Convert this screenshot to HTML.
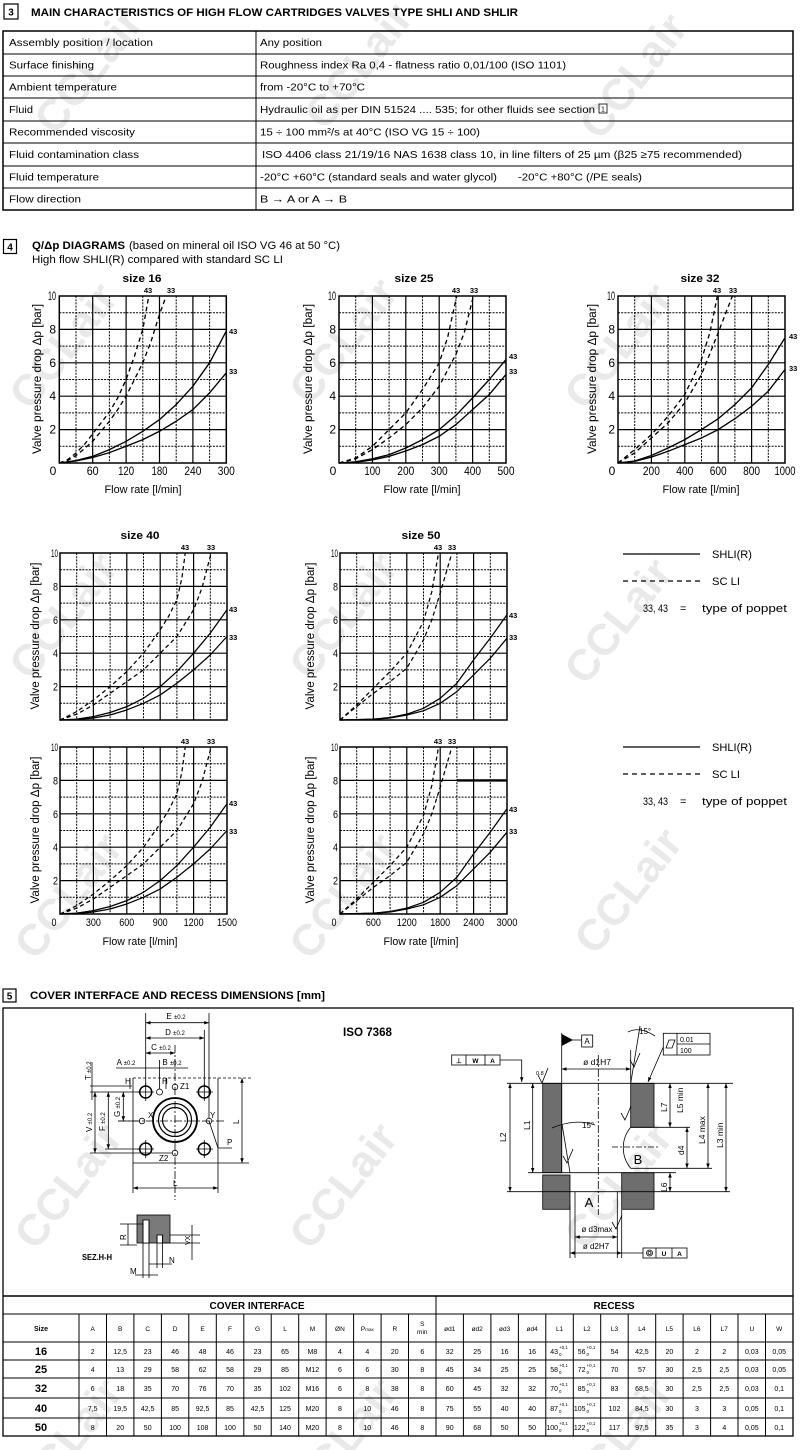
<!DOCTYPE html>
<html><head><meta charset="utf-8"><style>html,body{margin:0;padding:0;background:#fff}svg{display:block}</style></head>
<body>
<svg xmlns="http://www.w3.org/2000/svg" xmlns:xlink="http://www.w3.org/1999/xlink" width="800" height="1450" viewBox="0 0 800 1450" font-family="Liberation Sans, Arial, sans-serif">
<defs>
<marker id="ar" viewBox="0 0 6 6" refX="6" refY="3" markerWidth="6" markerHeight="6" orient="auto-start-reverse"><path d="M0,0.8L6,3L0,5.2z" fill="#000"/></marker>
<g id="grid" fill="none" stroke="#000">
<path d="M16.7 0V167M50.1 0V167M83.5 0V167M116.9 0V167M150.3 0V167M0 16.7H167M0 50.1H167M0 83.5H167M0 116.9H167M0 150.3H167" stroke-width="1" stroke-dasharray="2,1.2"/>
<path d="M33.4 0V167M66.8 0V167M100.2 0V167M133.6 0V167M0 33.4H167M0 66.8H167M0 100.2H167M0 133.6H167" stroke-width="1.2"/>
<rect x="0" y="0" width="167" height="167" stroke-width="1.5"/>
</g>
</defs>
<rect width="800" height="1450" fill="#fff"/>

<!-- watermarks -->
<g font-size="44" font-weight="bold" fill="#d2d2d2" opacity="0.5" text-anchor="middle">
<text transform="translate(100,80) rotate(-52)">CCLair</text>
<text transform="translate(370,75) rotate(-52)">CCLair</text>
<text transform="translate(645,85) rotate(-52)">CCLair</text>
<text transform="translate(75,355) rotate(-52)">CCLair</text>
<text transform="translate(355,350) rotate(-52)">CCLair</text>
<text transform="translate(630,355) rotate(-52)">CCLair</text>
<text transform="translate(75,625) rotate(-52)">CCLair</text>
<text transform="translate(355,625) rotate(-52)">CCLair</text>
<text transform="translate(630,630) rotate(-52)">CCLair</text>
<text transform="translate(80,905) rotate(-52)">CCLair</text>
<text transform="translate(355,905) rotate(-52)">CCLair</text>
<text transform="translate(640,900) rotate(-52)">CCLair</text>
<text transform="translate(80,1195) rotate(-52)">CCLair</text>
<text transform="translate(355,1195) rotate(-52)">CCLair</text>
<text transform="translate(630,1195) rotate(-52)">CCLair</text>
<text transform="translate(80,1450) rotate(-52)">CCLair</text>
<text transform="translate(355,1450) rotate(-52)">CCLair</text>
<text transform="translate(630,1450) rotate(-52)">CCLair</text>
</g>

<!-- SECTION 3 -->
<rect x="4" y="4" width="14" height="15" fill="none" stroke="#000" stroke-width="1.2"/>
<text x="11" y="15.5" font-size="10" font-weight="bold" text-anchor="middle">3</text>
<text x="31" y="16" font-size="11" font-weight="bold" textLength="487" lengthAdjust="spacingAndGlyphs">MAIN CHARACTERISTICS OF HIGH FLOW CARTRIDGES VALVES TYPE SHLI AND SHLIR</text>
<rect x="3" y="31" width="790" height="179" fill="none" stroke="#000" stroke-width="1.5"/>
<path d="M3 54H793M3 76H793M3 98H793M3 121H793M3 143H793M3 166H793M3 188H793M256 31V210" stroke="#000" stroke-width="1"/>
<g font-size="10.5">
<text x="9" y="46" textLength="144" lengthAdjust="spacingAndGlyphs">Assembly position / location</text>
<text x="9" y="68.5" textLength="85" lengthAdjust="spacingAndGlyphs">Surface finishing</text>
<text x="9" y="90.5" textLength="108" lengthAdjust="spacingAndGlyphs">Ambient temperature</text>
<text x="9" y="113" textLength="24" lengthAdjust="spacingAndGlyphs">Fluid</text>
<text x="9" y="135.5" textLength="126" lengthAdjust="spacingAndGlyphs">Recommended viscosity</text>
<text x="9" y="158" textLength="130" lengthAdjust="spacingAndGlyphs">Fluid contamination class</text>
<text x="9" y="180.5" textLength="90" lengthAdjust="spacingAndGlyphs">Fluid temperature</text>
<text x="9" y="202.5" textLength="72" lengthAdjust="spacingAndGlyphs">Flow direction</text>
<text x="260" y="46" textLength="62" lengthAdjust="spacingAndGlyphs">Any position</text>
<text x="260" y="68.5" textLength="306" lengthAdjust="spacingAndGlyphs">Roughness index Ra 0,4 - flatness ratio 0,01/100 (ISO 1101)</text>
<text x="260" y="90.5" textLength="105" lengthAdjust="spacingAndGlyphs">from -20°C to +70°C</text>
<text x="260" y="113" textLength="335" lengthAdjust="spacingAndGlyphs">Hydraulic oil as per DIN 51524 .... 535; for other fluids see section</text>
<text x="260" y="135.5" textLength="220" lengthAdjust="spacingAndGlyphs">15 ÷ 100 mm²/s at 40°C (ISO VG 15 ÷ 100)</text>
<text x="262" y="158" textLength="480" lengthAdjust="spacingAndGlyphs">ISO 4406  class 21/19/16  NAS 1638  class 10, in line filters of 25 µm (β25 ≥75 recommended)</text>
<text x="260" y="180.5" textLength="237" lengthAdjust="spacingAndGlyphs">-20°C +60°C (standard seals and water glycol)</text>
<text x="518" y="180.5" textLength="124" lengthAdjust="spacingAndGlyphs">-20°C +80°C (/PE seals)</text>
<text x="260" y="202.5" textLength="87" lengthAdjust="spacingAndGlyphs">B → A or A → B</text>
</g>
<rect x="599" y="104" width="8" height="9" fill="none" stroke="#000" stroke-width="0.8"/>
<text x="603" y="111.5" font-size="7" text-anchor="middle">1</text>

<!-- SECTION 4 -->
<rect x="3.5" y="239.5" width="13" height="14" fill="none" stroke="#000" stroke-width="1.2"/>
<text x="10" y="250.5" font-size="10" font-weight="bold" text-anchor="middle">4</text>
<text x="32" y="249" font-size="11" font-weight="bold" textLength="93" lengthAdjust="spacingAndGlyphs">Q/Δp DIAGRAMS</text>
<text x="129" y="249" font-size="11" textLength="211" lengthAdjust="spacingAndGlyphs">(based on mineral oil ISO VG 46 at 50 °C)</text>
<text x="32" y="263" font-size="11" textLength="251" lengthAdjust="spacingAndGlyphs">High flow SHLI(R) compared with standard SC LI</text>

<!-- grids -->
<use xlink:href="#grid" href="#grid" x="59.3" y="296"/>
<use xlink:href="#grid" href="#grid" x="339" y="296"/>
<use xlink:href="#grid" href="#grid" x="618" y="296"/>
<use xlink:href="#grid" href="#grid" x="60" y="553"/>
<use xlink:href="#grid" href="#grid" x="340" y="553"/>
<use xlink:href="#grid" href="#grid" x="60" y="747"/>
<use xlink:href="#grid" href="#grid" x="340" y="747"/>
<path d="M456.9 780.4H507" stroke="#000" stroke-width="2.4"/>

<!-- curves -->
<g fill="none" stroke="#000" stroke-linejoin="round">
<g transform="translate(59.3,463) scale(16.7,-16.7)" stroke-width="0.08">
<polyline points="0,0 1,0.15 2,0.4 3,0.8 4,1.3 5,1.9 6,2.6 7,3.5 8,4.6 9,6.0 10,7.9"/>
<polyline points="0,0 1,0.12 2,0.33 3,0.62 4,1.0 5,1.4 6,1.9 7,2.5 8,3.2 9,4.2 10,5.4"/>
<polyline stroke-dasharray="0.27 0.2" points="0,0 0.5,0.2 1,0.6 1.5,1.1 2,1.75 2.5,2.4 3,3.05 3.5,3.9 4,5.0 4.5,6.4 5,8.0 5.36,10"/>
<polyline stroke-dasharray="0.27 0.2" points="0,0 0.5,0.15 1,0.45 1.5,0.85 2,1.3 2.5,1.9 3,2.5 3.5,3.2 4,4.0 4.5,5.0 5,6.0 5.5,7.3 6,8.9 6.4,10"/>
</g>
<g transform="translate(339,463) scale(16.7,-16.7)" stroke-width="0.08">
<polyline points="0,0 1,0.07 2,0.25 3,0.5 4,0.9 5,1.4 6,2.0 7,2.85 8,3.9 9,5.0 10,6.2"/>
<polyline points="0,0 1,0.05 2,0.18 3,0.4 4,0.72 5,1.1 6,1.6 7,2.3 8,3.2 9,4.1 10,5.3"/>
<polyline stroke-dasharray="0.27 0.2" points="0,0 1,0.3 2,1.0 3,2.0 4,3.0 5,4.4 6,6.0 6.5,7.5 7.05,10"/>
<polyline stroke-dasharray="0.27 0.2" points="0,0 1,0.25 2,0.8 3,1.5 4,2.3 5,3.3 6,4.6 7,6.5 7.5,7.8 8.05,10"/>
</g>
<g transform="translate(618,463) scale(16.7,-16.7)" stroke-width="0.08">
<polyline points="0,0 1,0.12 2,0.45 3,0.9 4,1.4 5,2.0 6,2.65 7,3.5 8,4.5 9,5.9 10,7.5"/>
<polyline points="0,0 1,0.1 2,0.35 3,0.7 4,1.1 5,1.5 6,2.0 7,2.65 8,3.4 9,4.3 10,5.6"/>
<polyline stroke-dasharray="0.27 0.2" points="0,0 1,0.8 2,1.7 3,2.8 4,4.1 5,6.2 5.5,7.8 5.95,10"/>
<polyline stroke-dasharray="0.27 0.2" points="0,0 1,0.6 2,1.5 3,2.4 4,3.6 5,5.3 6,7.8 6.85,10"/>
</g>
<g transform="translate(60,720) scale(16.7,-16.7)" stroke-width="0.075">
<polyline points="0,0 1,0.05 2,0.2 3,0.45 4,0.8 5,1.3 6,2.0 7,2.9 8,4.0 9,5.2 10,6.6"/>
<polyline points="0,0 1,0.03 2,0.12 3,0.3 4,0.6 5,1.0 6,1.5 7,2.2 8,3.0 9,3.9 10,5.0"/>
<polyline stroke-dasharray="0.25 0.18" points="0,0 1,0.5 2,1.2 3,2.0 4,2.9 5,4.0 6,5.4 6.5,6.2 7,7.2 7.3,8.5 7.5,10"/>
<polyline stroke-dasharray="0.25 0.18" points="0,0 1,0.35 2,0.9 3,1.6 4,2.3 5,3.0 6,4.0 7,5.0 8,6.6 8.5,7.9 9.05,10"/>
</g>
<g transform="translate(60,914) scale(16.7,-16.7)" stroke-width="0.075">
<polyline points="0,0 1,0.05 2,0.2 3,0.45 4,0.8 5,1.3 6,2.0 7,2.9 8,4.0 9,5.2 10,6.6"/>
<polyline points="0,0 1,0.03 2,0.12 3,0.3 4,0.6 5,1.0 6,1.5 7,2.2 8,3.0 9,3.9 10,5.0"/>
<polyline stroke-dasharray="0.25 0.18" points="0,0 1,0.5 2,1.2 3,2.0 4,2.9 5,4.0 6,5.4 6.5,6.2 7,7.2 7.3,8.5 7.5,10"/>
<polyline stroke-dasharray="0.25 0.18" points="0,0 1,0.35 2,0.9 3,1.6 4,2.3 5,3.0 6,4.0 7,5.0 8,6.6 8.5,7.9 9.05,10"/>
</g>
<g transform="translate(340,720) scale(16.7,-16.7)" stroke-width="0.075">
<polyline points="0,0 2,0.05 3,0.15 4,0.35 5,0.7 6,1.3 7,2.2 8,3.6 9,4.9 10,6.3"/>
<polyline points="0,0 2,0.04 3,0.12 4,0.3 5,0.55 6,1.0 7,1.7 8,2.7 9,3.7 10,4.9"/>
<polyline stroke-dasharray="0.25 0.18" points="0,0 1,0.9 2,1.9 3,2.9 4,4.0 5,5.9 5.5,7.7 5.9,10"/>
<polyline stroke-dasharray="0.25 0.18" points="0,0 1,0.8 2,1.6 3,2.3 4,3.1 5,4.8 5.5,6.0 6,7.6 6.7,10"/>
</g>
<g transform="translate(340,914) scale(16.7,-16.7)" stroke-width="0.075">
<polyline points="0,0 2,0.05 3,0.15 4,0.35 5,0.7 6,1.3 7,2.2 8,3.6 9,4.9 10,6.3"/>
<polyline points="0,0 2,0.04 3,0.12 4,0.3 5,0.55 6,1.0 7,1.7 8,2.7 9,3.7 10,4.9"/>
<polyline stroke-dasharray="0.25 0.18" points="0,0 1,0.9 2,1.9 3,2.9 4,4.0 5,5.9 5.5,7.7 5.9,10"/>
<polyline stroke-dasharray="0.25 0.18" points="0,0 1,0.8 2,1.6 3,2.3 4,3.1 5,4.8 5.5,6.0 6,7.6 6.7,10"/>
</g>
</g>

<!-- curve labels -->
<g font-size="7.5" font-weight="bold" text-anchor="middle">
<text x="148" y="293">43</text><text x="171" y="293">33</text>
<text x="456" y="293">43</text><text x="474" y="293">33</text>
<text x="717" y="293">43</text><text x="733" y="293">33</text>
<text x="185" y="550">43</text><text x="211" y="550">33</text>
<text x="438" y="550">43</text><text x="452" y="550">33</text>
<text x="185" y="744">43</text><text x="211" y="744">33</text>
<text x="438" y="744">43</text><text x="452" y="744">33</text>
</g>
<g font-size="7.5" font-weight="bold">
<text x="229" y="334">43</text><text x="229" y="374">33</text>
<text x="509" y="359">43</text><text x="509" y="374">33</text>
<text x="789" y="339">43</text><text x="789" y="371">33</text>
<text x="229" y="612">43</text><text x="229" y="640">33</text>
<text x="509" y="618">43</text><text x="509" y="640">33</text>
<text x="229" y="806">43</text><text x="229" y="834">33</text>
<text x="509" y="812">43</text><text x="509" y="834">33</text>
</g>

<!-- titles -->
<g font-size="11" font-weight="bold" text-anchor="middle">
<text x="142" y="282" textLength="39" lengthAdjust="spacingAndGlyphs">size 16</text>
<text x="414" y="282" textLength="39" lengthAdjust="spacingAndGlyphs">size 25</text>
<text x="700" y="282" textLength="39" lengthAdjust="spacingAndGlyphs">size 32</text>
<text x="140" y="539" textLength="39" lengthAdjust="spacingAndGlyphs">size 40</text>
<text x="421" y="539" textLength="39" lengthAdjust="spacingAndGlyphs">size 50</text>
</g>

<!-- y axis labels -->
<g font-size="11.5" text-anchor="middle">
<text transform="translate(41,379) rotate(-90)" textLength="150" lengthAdjust="spacingAndGlyphs">Valve pressure drop Δp [bar]</text>
<text transform="translate(312,379) rotate(-90)" textLength="150" lengthAdjust="spacingAndGlyphs">Valve pressure drop Δp [bar]</text>
<text transform="translate(596,379) rotate(-90)" textLength="150" lengthAdjust="spacingAndGlyphs">Valve pressure drop Δp [bar]</text>
<text transform="translate(39,636) rotate(-90)" textLength="147" lengthAdjust="spacingAndGlyphs">Valve pressure drop Δp [bar]</text>
<text transform="translate(314,636) rotate(-90)" textLength="147" lengthAdjust="spacingAndGlyphs">Valve pressure drop Δp [bar]</text>
<text transform="translate(39,830) rotate(-90)" textLength="147" lengthAdjust="spacingAndGlyphs">Valve pressure drop Δp [bar]</text>
<text transform="translate(314,830) rotate(-90)" textLength="147" lengthAdjust="spacingAndGlyphs">Valve pressure drop Δp [bar]</text>
</g>

<!-- y tick labels -->
<g font-size="12" text-anchor="end">
<text x="56" y="300" textLength="8" lengthAdjust="spacingAndGlyphs">10</text><text x="56" y="333.4">8</text><text x="56" y="366.8">6</text><text x="56" y="400.2">4</text><text x="56" y="433.6">2</text>
<text x="336" y="300" textLength="8" lengthAdjust="spacingAndGlyphs">10</text><text x="336" y="333.4">8</text><text x="336" y="366.8">6</text><text x="336" y="400.2">4</text><text x="336" y="433.6">2</text>
<text x="615" y="300" textLength="8" lengthAdjust="spacingAndGlyphs">10</text><text x="615" y="333.4">8</text><text x="615" y="366.8">6</text><text x="615" y="400.2">4</text><text x="615" y="433.6">2</text>
</g>
<g font-size="11" text-anchor="end">
<text x="58" y="557" textLength="7" lengthAdjust="spacingAndGlyphs">10</text><text x="58" y="590.4" textLength="5" lengthAdjust="spacingAndGlyphs">8</text><text x="58" y="623.8" textLength="5" lengthAdjust="spacingAndGlyphs">6</text><text x="58" y="657.2" textLength="5" lengthAdjust="spacingAndGlyphs">4</text><text x="58" y="690.6" textLength="5" lengthAdjust="spacingAndGlyphs">2</text>
<text x="338" y="557" textLength="7" lengthAdjust="spacingAndGlyphs">10</text><text x="338" y="590.4" textLength="5" lengthAdjust="spacingAndGlyphs">8</text><text x="338" y="623.8" textLength="5" lengthAdjust="spacingAndGlyphs">6</text><text x="338" y="657.2" textLength="5" lengthAdjust="spacingAndGlyphs">4</text><text x="338" y="690.6" textLength="5" lengthAdjust="spacingAndGlyphs">2</text>
<text x="58" y="751" textLength="7" lengthAdjust="spacingAndGlyphs">10</text><text x="58" y="784.4" textLength="5" lengthAdjust="spacingAndGlyphs">8</text><text x="58" y="817.8" textLength="5" lengthAdjust="spacingAndGlyphs">6</text><text x="58" y="851.2" textLength="5" lengthAdjust="spacingAndGlyphs">4</text><text x="58" y="884.6" textLength="5" lengthAdjust="spacingAndGlyphs">2</text>
<text x="338" y="751" textLength="7" lengthAdjust="spacingAndGlyphs">10</text><text x="338" y="784.4" textLength="5" lengthAdjust="spacingAndGlyphs">8</text><text x="338" y="817.8" textLength="5" lengthAdjust="spacingAndGlyphs">6</text><text x="338" y="851.2" textLength="5" lengthAdjust="spacingAndGlyphs">4</text><text x="338" y="884.6" textLength="5" lengthAdjust="spacingAndGlyphs">2</text>
</g>

<!-- x tick labels -->
<g font-size="12" text-anchor="middle">
<text x="53" y="475">0</text>
<text x="92.7" y="475" textLength="12" lengthAdjust="spacingAndGlyphs">60</text>
<text x="126.1" y="475" textLength="16" lengthAdjust="spacingAndGlyphs">120</text>
<text x="159.5" y="475" textLength="16" lengthAdjust="spacingAndGlyphs">180</text>
<text x="192.9" y="475" textLength="17" lengthAdjust="spacingAndGlyphs">240</text>
<text x="226.3" y="475" textLength="17" lengthAdjust="spacingAndGlyphs">300</text>
<text x="333" y="475">0</text>
<text x="372.4" y="475" textLength="16" lengthAdjust="spacingAndGlyphs">100</text>
<text x="405.8" y="475" textLength="17" lengthAdjust="spacingAndGlyphs">200</text>
<text x="439.2" y="475" textLength="17" lengthAdjust="spacingAndGlyphs">300</text>
<text x="472.6" y="475" textLength="17" lengthAdjust="spacingAndGlyphs">400</text>
<text x="506" y="475" textLength="17" lengthAdjust="spacingAndGlyphs">500</text>
<text x="612" y="475">0</text>
<text x="651.4" y="475" textLength="17" lengthAdjust="spacingAndGlyphs">200</text>
<text x="684.8" y="475" textLength="17" lengthAdjust="spacingAndGlyphs">400</text>
<text x="718.2" y="475" textLength="17" lengthAdjust="spacingAndGlyphs">600</text>
<text x="751.6" y="475" textLength="17" lengthAdjust="spacingAndGlyphs">800</text>
<text x="785" y="475" textLength="21" lengthAdjust="spacingAndGlyphs">1000</text>
</g>
<g font-size="11" text-anchor="middle">
<text x="54" y="926" textLength="5" lengthAdjust="spacingAndGlyphs">0</text>
<text x="93.4" y="926" textLength="15" lengthAdjust="spacingAndGlyphs">300</text>
<text x="126.8" y="926" textLength="15" lengthAdjust="spacingAndGlyphs">600</text>
<text x="160.2" y="926" textLength="15" lengthAdjust="spacingAndGlyphs">900</text>
<text x="193.6" y="926" textLength="20" lengthAdjust="spacingAndGlyphs">1200</text>
<text x="227" y="926" textLength="20" lengthAdjust="spacingAndGlyphs">1500</text>
<text x="334" y="926" textLength="5" lengthAdjust="spacingAndGlyphs">0</text>
<text x="373.4" y="926" textLength="15" lengthAdjust="spacingAndGlyphs">600</text>
<text x="406.8" y="926" textLength="20" lengthAdjust="spacingAndGlyphs">1200</text>
<text x="440.2" y="926" textLength="20" lengthAdjust="spacingAndGlyphs">1800</text>
<text x="473.6" y="926" textLength="21" lengthAdjust="spacingAndGlyphs">2400</text>
<text x="507" y="926" textLength="21" lengthAdjust="spacingAndGlyphs">3000</text>
</g>
<g font-size="11" text-anchor="middle">
<text x="143" y="493" textLength="77" lengthAdjust="spacingAndGlyphs">Flow rate [l/min]</text>
<text x="422" y="493" textLength="77" lengthAdjust="spacingAndGlyphs">Flow rate [l/min]</text>
<text x="701" y="493" textLength="77" lengthAdjust="spacingAndGlyphs">Flow rate [l/min]</text>
<text x="140" y="945" textLength="75" lengthAdjust="spacingAndGlyphs">Flow rate [l/min]</text>
<text x="421" y="945" textLength="75" lengthAdjust="spacingAndGlyphs">Flow rate [l/min]</text>
</g>

<!-- legends -->
<g stroke="#000" stroke-width="1.2">
<path d="M623 554H700"/><path d="M623 581H700" stroke-dasharray="5,4"/>
<path d="M623 747H700"/><path d="M623 774H700" stroke-dasharray="5,4"/>
</g>
<g font-size="11">
<text x="712" y="558" textLength="40" lengthAdjust="spacingAndGlyphs">SHLI(R)</text>
<text x="712" y="585" textLength="28" lengthAdjust="spacingAndGlyphs">SC LI</text>
<text x="643" y="612" textLength="25" lengthAdjust="spacingAndGlyphs">33, 43</text>
<text x="680" y="612">=</text>
<text x="702" y="612" textLength="85" lengthAdjust="spacingAndGlyphs">type of poppet</text>
<text x="712" y="751" textLength="40" lengthAdjust="spacingAndGlyphs">SHLI(R)</text>
<text x="712" y="778" textLength="28" lengthAdjust="spacingAndGlyphs">SC LI</text>
<text x="643" y="805" textLength="25" lengthAdjust="spacingAndGlyphs">33, 43</text>
<text x="680" y="805">=</text>
<text x="702" y="805" textLength="85" lengthAdjust="spacingAndGlyphs">type of poppet</text>
</g>

<!-- SECTION 5 -->
<rect x="3" y="989" width="13" height="13" fill="none" stroke="#000" stroke-width="1.2"/>
<text x="9.5" y="999.5" font-size="10" font-weight="bold" text-anchor="middle">5</text>
<text x="30" y="999" font-size="11" font-weight="bold" textLength="295" lengthAdjust="spacingAndGlyphs">COVER INTERFACE AND RECESS DIMENSIONS [mm]</text>
<rect x="3" y="1008" width="790" height="428" fill="none" stroke="#000" stroke-width="1.3"/>
<text x="343" y="1036" font-size="12" font-weight="bold" textLength="49" lengthAdjust="spacingAndGlyphs">ISO 7368</text>

<!-- left drawing -->
<g fill="none" stroke="#000" stroke-width="0.8">
<path d="M133 1078H253" stroke-dasharray="3,2"/>
<path d="M133 1078V1193M218 1078V1193M133 1163H249"/>
<path d="M242 1078V1163" marker-start="url(#ar)" marker-end="url(#ar)"/>
<path d="M133 1188H218" marker-start="url(#ar)" marker-end="url(#ar)"/>
<circle cx="175" cy="1120" r="22" stroke-width="1.8"/>
<circle cx="175" cy="1120" r="16.5" stroke-width="1.2"/>
<circle cx="175" cy="1120" r="12.5" stroke-width="1.2"/>
<circle cx="145.7" cy="1092" r="6" stroke-width="1.5"/>
<circle cx="204.3" cy="1092" r="6" stroke-width="1.5"/>
<circle cx="145.7" cy="1149" r="6" stroke-width="1.5"/>
<circle cx="204.3" cy="1149" r="6" stroke-width="1.5"/>
<path d="M137 1092H154M145.7 1083V1101M196 1092H213M204.3 1083V1101M137 1149H154M145.7 1140V1158M196 1149H213M204.3 1140V1158"/>
<circle cx="142" cy="1121" r="2.8"/><circle cx="209" cy="1121" r="2.8"/>
<circle cx="175" cy="1087" r="2.8"/><circle cx="175" cy="1153" r="2.8"/>
<circle cx="159.5" cy="1092" r="3"/>
<path d="M118 1121H226" stroke-dasharray="8,2,2,2"/>
<path d="M175 1045V1200" stroke-dasharray="8,2,2,2"/>
<path d="M209 1121L218 1148H232"/>
<path d="M145.7 1022.7H209" marker-start="url(#ar)" marker-end="url(#ar)"/>
<path d="M145.7 1038H204.3" marker-start="url(#ar)" marker-end="url(#ar)"/>
<path d="M145.7 1053H175" marker-start="url(#ar)" marker-end="url(#ar)"/>
<path d="M116 1068H188"/>
<path d="M145.7 1013V1086M209 1013V1118M204.3 1030V1086M159.5 1060V1089"/>
<path d="M90 1086H132M90 1092H140M90 1153H172M105 1149H140M118 1121H138"/>
<path d="M92 1062V1100"/>
<path d="M95 1092V1153" marker-start="url(#ar)" marker-end="url(#ar)"/>
<path d="M108.3 1092V1149" marker-start="url(#ar)" marker-end="url(#ar)"/>
<path d="M123.3 1092V1121" marker-start="url(#ar)" marker-end="url(#ar)"/>
<path d="M130 1078V1089M166 1078V1089"/>
<rect x="137" y="1215" width="33" height="28" fill="#7a7a7a" stroke="#000"/>
<rect x="143" y="1220" width="6" height="23" fill="#fff"/>
<rect x="157" y="1235" width="5.5" height="8" fill="#fff"/>
<path d="M143 1220V1278M149 1220V1278M157 1235V1268M162.5 1235V1268"/>
<path d="M120 1224H143M120 1245H137M128 1224V1245"/>
<path d="M162 1243H200M170 1235H200M192 1225V1260"/>
<path d="M149 1264H172M135 1275H158"/>
</g>
<g font-size="8">
<text x="176" y="1019" text-anchor="middle">E <tspan font-size="6">±0.2</tspan></text>
<text x="175" y="1035" text-anchor="middle">D <tspan font-size="6">±0.2</tspan></text>
<text x="161" y="1050" text-anchor="middle">C <tspan font-size="6">±0.2</tspan></text>
<text x="126" y="1065" text-anchor="middle">A <tspan font-size="6">±0.2</tspan></text>
<text x="172" y="1065" text-anchor="middle">B <tspan font-size="6">±0.2</tspan></text>
<text x="125" y="1084">H</text><text x="162" y="1084">H</text>
<text x="180" y="1089">Z1</text>
<text x="159" y="1161">Z2</text>
<text x="148" y="1118">X</text>
<text x="210" y="1118">Y</text>
<text x="227" y="1145">P</text>
<text x="173" y="1186">L</text>
<text transform="translate(239,1124) rotate(-90)">L</text>
<text transform="translate(91,1080) rotate(-90)">T <tspan font-size="6">±0.2</tspan></text>
<text transform="translate(92,1132) rotate(-90)">V <tspan font-size="6">±0.2</tspan></text>
<text transform="translate(105,1131) rotate(-90)">F <tspan font-size="6">±0.2</tspan></text>
<text transform="translate(120,1117) rotate(-90)">G <tspan font-size="6">±0.2</tspan></text>
<text transform="translate(126,1240) rotate(-90)">R</text>
<text transform="translate(190,1245) rotate(-90)" font-size="7">VX</text>
<text x="169" y="1263">N</text>
<text x="130" y="1274">M</text>
<text x="82" y="1260" font-weight="bold" textLength="30" lengthAdjust="spacingAndGlyphs">SEZ.H-H</text>
</g>

<!-- right drawing -->
<g fill="#6e6e6e" stroke="#000" stroke-width="0.8">
<rect x="542.7" y="1083.3" width="19" height="89.4"/>
<rect x="542.7" y="1175" width="27.3" height="34.3"/>
<rect x="630.7" y="1083.3" width="23.3" height="44"/>
<rect x="621.7" y="1172.7" width="32.3" height="36.6"/>
</g>
<g fill="none" stroke="#000" stroke-width="0.8">
<path d="M507 1083.3H733"/>
<path d="M528 1172.7H676"/>
<path d="M507 1191.7H730"/>
<path d="M630.7 1127.3H690M630.7 1168.3H712"/>
<path d="M561.7 1033V1172.7M630.7 1050V1083"/>
<path d="M575 1191.7V1258M617.3 1191.7V1258"/>
<path d="M630.7 1127.3A32 32 0 0 0 630.7 1168.3"/>
<path d="M598.3 1055V1215" stroke-dasharray="8,2,2,2"/>
<path d="M612 1147H658" stroke-dasharray="6,2,2,2"/>
<path d="M562 1124L570 1172.7"/>
<path d="M630.7 1083.3L640 1026"/>
<path d="M552 1128Q575 1118 595 1125"/>
<path d="M628 1032Q640 1026 655 1036"/>
<path d="M561.7 1069H630.7" marker-start="url(#ar)" marker-end="url(#ar)"/>
<path d="M510 1083.3V1191.7" marker-start="url(#ar)" marker-end="url(#ar)"/>
<path d="M532.7 1083.3V1172.7" marker-start="url(#ar)" marker-end="url(#ar)"/>
<path d="M670 1083.3V1127.3" marker-start="url(#ar)" marker-end="url(#ar)"/>
<path d="M687 1127.3V1168.3" marker-start="url(#ar)" marker-end="url(#ar)"/>
<path d="M708 1083.3V1168.3" marker-start="url(#ar)" marker-end="url(#ar)"/>
<path d="M726 1083.3V1191.7" marker-start="url(#ar)" marker-end="url(#ar)"/>
<path d="M670 1172.7V1191.7" marker-start="url(#ar)" marker-end="url(#ar)"/>
<path d="M575 1237H617.3" marker-start="url(#ar)" marker-end="url(#ar)"/>
<path d="M570 1253H621.7" marker-start="url(#ar)" marker-end="url(#ar)"/>
<path d="M570 1205V1258M621.7 1210V1258M621.7 1253H643"/>
<path d="M561.7 1040H581.7"/>
<rect x="581.7" y="1035" width="11" height="12"/>
<rect x="451.7" y="1055" width="48.3" height="10"/>
<path d="M466 1055V1065M485 1055V1065"/>
<path d="M500 1060H521.7V1082" marker-end="url(#ar)"/>
<rect x="663.3" y="1033.3" width="46.7" height="21.7"/>
<path d="M677 1033.3V1055M677 1044H710"/>
<path d="M666 1048L669 1040H675L672 1048Z"/>
<path d="M663.3 1047L648 1082" marker-end="url(#ar)"/>
<rect x="643" y="1248" width="44" height="10"/>
<path d="M656 1248V1258M672 1248V1258"/>
<circle cx="649.5" cy="1253" r="3"/><circle cx="649.5" cy="1253" r="1.5"/>
<path d="M538 1075L542 1083L548 1068M621 1113L625 1120L631 1106M630 1060L634 1067L640 1053M563 1156L567 1163L573 1149M612 1222L616 1229L622 1215"/>
</g>
<path d="M561.7 1034L573 1040L561.7 1046Z" fill="#000"/>
<g font-size="8.5">
<text x="597" y="1065" text-anchor="middle">ø d1H7</text>
<text x="587" y="1044" text-anchor="middle" font-size="8">A</text>
<text x="475.5" y="1063" text-anchor="middle" font-size="6.5" font-weight="bold">W</text>
<text x="492.5" y="1063" text-anchor="middle" font-size="6.5" font-weight="bold">A</text>
<text x="456" y="1063" font-size="6.5" font-weight="bold">⊥</text>
<text x="680" y="1042" font-size="7">0.01</text>
<text x="680" y="1053" font-size="7">100</text>
<text x="664" y="1256" text-anchor="middle" font-size="6.5" font-weight="bold">U</text>
<text x="679.5" y="1256" text-anchor="middle" font-size="6.5" font-weight="bold">A</text>
<text x="639" y="1034" font-size="8">15°</text>
<text x="582" y="1128" font-size="8">15°</text>
<text x="597" y="1232" text-anchor="middle" font-size="8">ø d3max</text>
<text x="596" y="1249" text-anchor="middle" font-size="8">ø d2H7</text>
<text x="638" y="1164" font-size="13" text-anchor="middle">B</text>
<text x="589" y="1207" font-size="13" text-anchor="middle">A</text>
<text transform="translate(506,1142) rotate(-90)">L2</text>
<text transform="translate(530,1130) rotate(-90)">L1</text>
<text transform="translate(667,1112) rotate(-90)">L7</text>
<text transform="translate(683,1113) rotate(-90)">L5 min</text>
<text transform="translate(684,1155) rotate(-90)">d4</text>
<text transform="translate(705,1144) rotate(-90)">L4 max</text>
<text transform="translate(723,1148) rotate(-90)">L3 min</text>
<text transform="translate(667,1192) rotate(-90)">L6</text>
<text x="536" y="1075" font-size="5.5">0.8</text>
</g>

<!-- bottom table -->
<g fill="none" stroke="#000">
<path d="M3 1296H793" stroke-width="1.5"/>
<path d="M3 1314H793M3 1342H793M3 1360H793M3 1378H793M3 1398H793M3 1418H793" stroke-width="1"/>
<path d="M436 1296V1314" stroke-width="1"/>
<path d="M79 1314V1436M106.5 1314V1436M133.9 1314V1436M161.4 1314V1436M188.8 1314V1436M216.3 1314V1436M243.8 1314V1436M271.2 1314V1436M298.7 1314V1436M326.1 1314V1436M353.6 1314V1436M381.1 1314V1436M408.5 1314V1436M436 1314V1436M463.4 1314V1436M490.9 1314V1436M518.4 1314V1436M545.8 1314V1436M573.3 1314V1436M600.7 1314V1436M628.2 1314V1436M655.7 1314V1436M683.1 1314V1436M710.6 1314V1436M738 1314V1436M765.5 1314V1436" stroke-width="1"/>
</g>
<text x="257" y="1309" font-size="10" font-weight="bold" text-anchor="middle">COVER INTERFACE</text>
<text x="614" y="1309" font-size="10" font-weight="bold" text-anchor="middle">RECESS</text>
<g font-size="6.5" text-anchor="middle">
<text x="41" y="1331" font-weight="bold" font-size="7">Size</text>
<text x="92.7" y="1331">A</text><text x="120.2" y="1331">B</text><text x="147.7" y="1331">C</text><text x="175.1" y="1331">D</text><text x="202.6" y="1331">E</text><text x="230" y="1331">F</text><text x="257.5" y="1331">G</text><text x="285" y="1331">L</text><text x="312.4" y="1331">M</text><text x="339.9" y="1331">ØN</text><text x="367.3" y="1331">P<tspan font-size="4.5">max</tspan></text><text x="394.8" y="1331">R</text>
<text x="422.3" y="1326">S</text><text x="422.3" y="1334">min</text>
<text x="449.7" y="1331">ød1</text><text x="477.2" y="1331">ød2</text><text x="504.6" y="1331">ød3</text><text x="532.1" y="1331">ød4</text>
<text x="559.6" y="1331">L1</text><text x="587" y="1331">L2</text><text x="614.5" y="1331">L3</text><text x="641.9" y="1331">L4</text><text x="669.4" y="1331">L5</text><text x="696.9" y="1331">L6</text><text x="724.3" y="1331">L7</text><text x="751.8" y="1331">U</text><text x="779.2" y="1331">W</text>
</g>
<g font-size="11" font-weight="bold" text-anchor="middle">
<text x="41" y="1355">16</text><text x="41" y="1373">25</text><text x="41" y="1392">32</text><text x="41" y="1412">40</text><text x="41" y="1431">50</text>
</g>
<g font-size="7" text-anchor="middle">
<text x="92.7" y="1354">2</text><text x="120.2" y="1354">12,5</text><text x="147.7" y="1354">23</text><text x="175.1" y="1354">46</text><text x="202.6" y="1354">48</text><text x="230" y="1354">46</text><text x="257.5" y="1354">23</text><text x="285" y="1354">65</text><text x="312.4" y="1354">M8</text><text x="339.9" y="1354">4</text><text x="367.3" y="1354">4</text><text x="394.8" y="1354">20</text><text x="422.3" y="1354">6</text><text x="449.7" y="1354">32</text><text x="477.2" y="1354">25</text><text x="504.6" y="1354">16</text><text x="532.1" y="1354">16</text><text x="614.5" y="1354">54</text><text x="641.9" y="1354">42,5</text><text x="669.4" y="1354">20</text><text x="696.9" y="1354">2</text><text x="724.3" y="1354">2</text><text x="751.8" y="1354">0,03</text><text x="779.2" y="1354">0,05</text>
<text x="92.7" y="1372">4</text><text x="120.2" y="1372">13</text><text x="147.7" y="1372">29</text><text x="175.1" y="1372">58</text><text x="202.6" y="1372">62</text><text x="230" y="1372">58</text><text x="257.5" y="1372">29</text><text x="285" y="1372">85</text><text x="312.4" y="1372">M12</text><text x="339.9" y="1372">6</text><text x="367.3" y="1372">6</text><text x="394.8" y="1372">30</text><text x="422.3" y="1372">8</text><text x="449.7" y="1372">45</text><text x="477.2" y="1372">34</text><text x="504.6" y="1372">25</text><text x="532.1" y="1372">25</text><text x="614.5" y="1372">70</text><text x="641.9" y="1372">57</text><text x="669.4" y="1372">30</text><text x="696.9" y="1372">2,5</text><text x="724.3" y="1372">2,5</text><text x="751.8" y="1372">0,03</text><text x="779.2" y="1372">0,05</text>
<text x="92.7" y="1391">6</text><text x="120.2" y="1391">18</text><text x="147.7" y="1391">35</text><text x="175.1" y="1391">70</text><text x="202.6" y="1391">76</text><text x="230" y="1391">70</text><text x="257.5" y="1391">35</text><text x="285" y="1391">102</text><text x="312.4" y="1391">M16</text><text x="339.9" y="1391">6</text><text x="367.3" y="1391">8</text><text x="394.8" y="1391">38</text><text x="422.3" y="1391">8</text><text x="449.7" y="1391">60</text><text x="477.2" y="1391">45</text><text x="504.6" y="1391">32</text><text x="532.1" y="1391">32</text><text x="614.5" y="1391">83</text><text x="641.9" y="1391">68,5</text><text x="669.4" y="1391">30</text><text x="696.9" y="1391">2,5</text><text x="724.3" y="1391">2,5</text><text x="751.8" y="1391">0,03</text><text x="779.2" y="1391">0,1</text>
<text x="92.7" y="1411">7,5</text><text x="120.2" y="1411">19,5</text><text x="147.7" y="1411">42,5</text><text x="175.1" y="1411">85</text><text x="202.6" y="1411">92,5</text><text x="230" y="1411">85</text><text x="257.5" y="1411">42,5</text><text x="285" y="1411">125</text><text x="312.4" y="1411">M20</text><text x="339.9" y="1411">8</text><text x="367.3" y="1411">10</text><text x="394.8" y="1411">46</text><text x="422.3" y="1411">8</text><text x="449.7" y="1411">75</text><text x="477.2" y="1411">55</text><text x="504.6" y="1411">40</text><text x="532.1" y="1411">40</text><text x="614.5" y="1411">102</text><text x="641.9" y="1411">84,5</text><text x="669.4" y="1411">30</text><text x="696.9" y="1411">3</text><text x="724.3" y="1411">3</text><text x="751.8" y="1411">0,05</text><text x="779.2" y="1411">0,1</text>
<text x="92.7" y="1430">8</text><text x="120.2" y="1430">20</text><text x="147.7" y="1430">50</text><text x="175.1" y="1430">100</text><text x="202.6" y="1430">108</text><text x="230" y="1430">100</text><text x="257.5" y="1430">50</text><text x="285" y="1430">140</text><text x="312.4" y="1430">M20</text><text x="339.9" y="1430">8</text><text x="367.3" y="1430">10</text><text x="394.8" y="1430">46</text><text x="422.3" y="1430">8</text><text x="449.7" y="1430">90</text><text x="477.2" y="1430">68</text><text x="504.6" y="1430">50</text><text x="532.1" y="1430">50</text><text x="614.5" y="1430">117</text><text x="641.9" y="1430">97,5</text><text x="669.4" y="1430">35</text><text x="696.9" y="1430">3</text><text x="724.3" y="1430">4</text><text x="751.8" y="1430">0,05</text><text x="779.2" y="1430">0,1</text>
</g>
<g font-size="7" text-anchor="end">
<text x="558" y="1354">43</text><text x="585.5" y="1354">56</text>
<text x="558" y="1372">58</text><text x="585.5" y="1372">72</text>
<text x="558" y="1391">70</text><text x="585.5" y="1391">85</text>
<text x="558" y="1411">87</text><text x="585.5" y="1411">105</text>
<text x="558" y="1430">100</text><text x="585.5" y="1430">122</text>
</g>
<g font-size="4.5">
<text x="559" y="1349">+0,1</text><text x="559" y="1356">0</text><text x="586.5" y="1349">+0,1</text><text x="586.5" y="1356">0</text>
<text x="559" y="1367">+0,1</text><text x="559" y="1374">0</text><text x="586.5" y="1367">+0,1</text><text x="586.5" y="1374">0</text>
<text x="559" y="1386">+0,1</text><text x="559" y="1393">0</text><text x="586.5" y="1386">+0,1</text><text x="586.5" y="1393">0</text>
<text x="559" y="1406">+0,1</text><text x="559" y="1413">0</text><text x="586.5" y="1406">+0,1</text><text x="586.5" y="1413">0</text>
<text x="559" y="1425">+0,1</text><text x="559" y="1432">0</text><text x="586.5" y="1425">+0,1</text><text x="586.5" y="1432">0</text>
</g>
</svg>
</body></html>
